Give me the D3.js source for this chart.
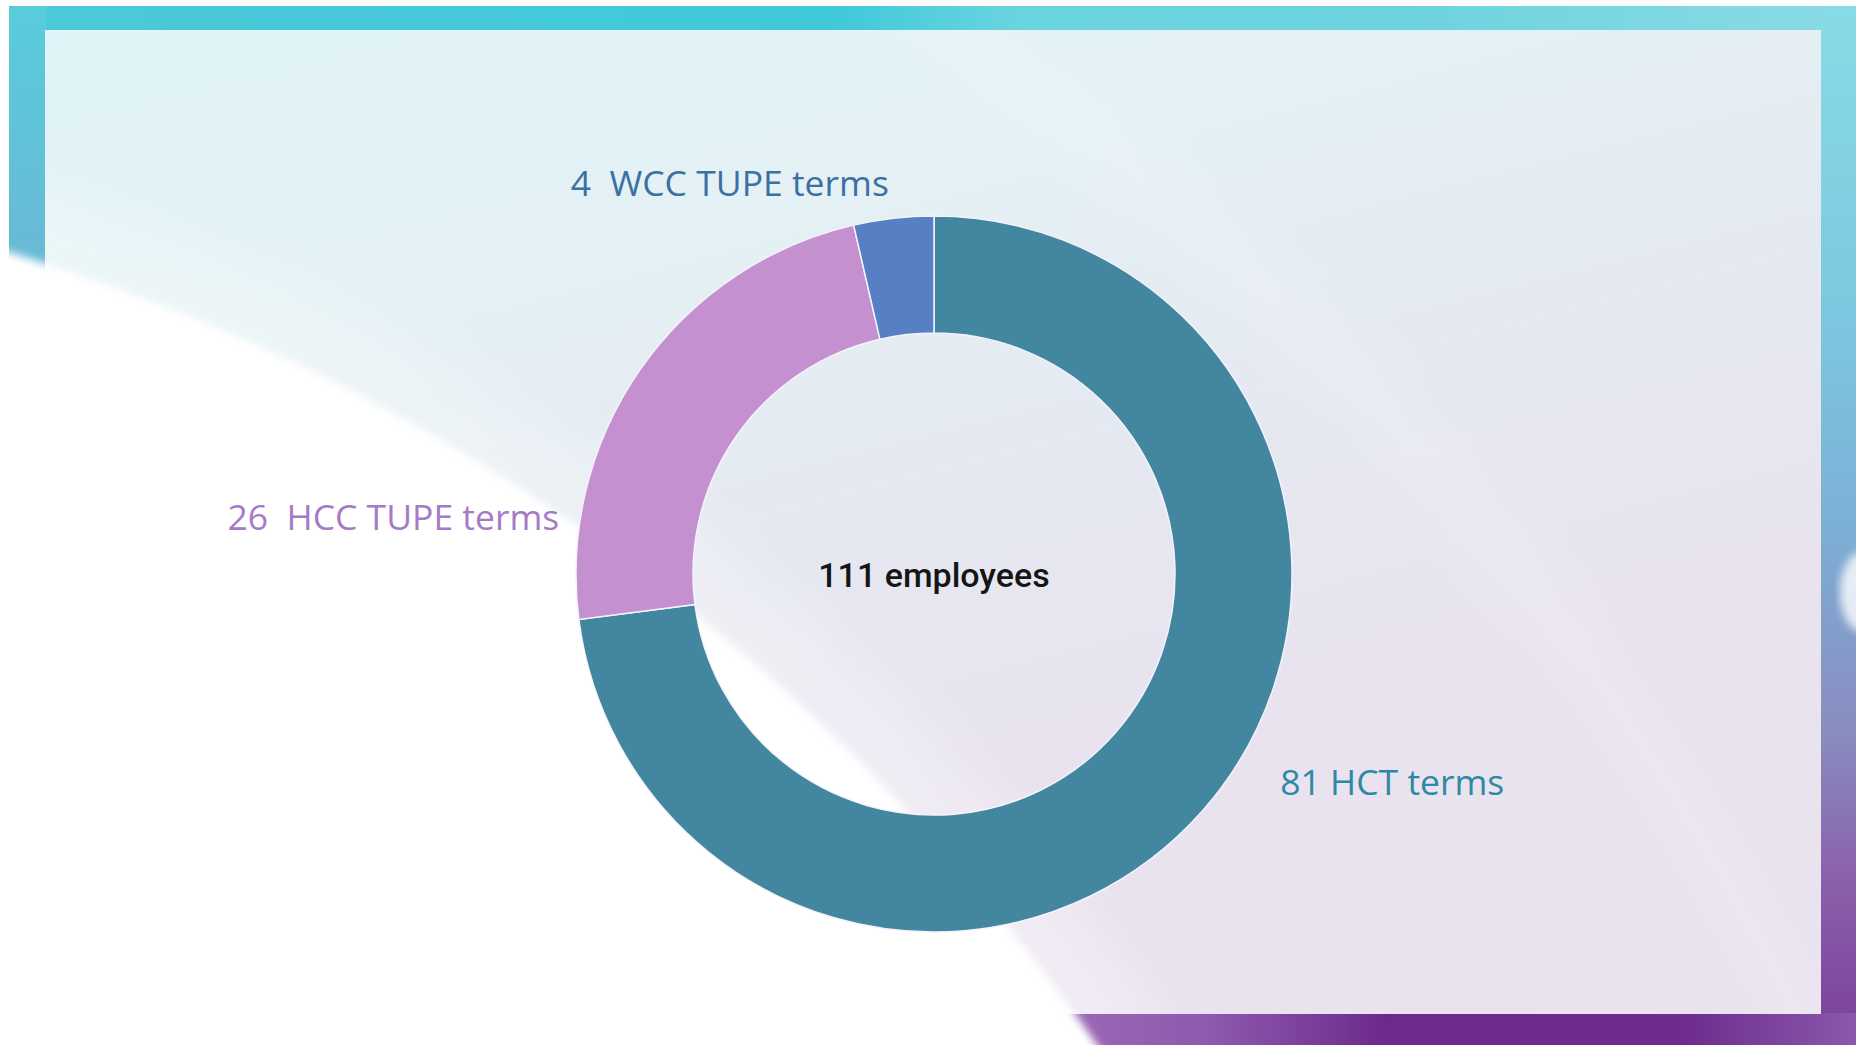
<!DOCTYPE html>
<html>
<head>
    <title>Employees by terms (D3 donut)</title>
    <script src="https://d3js.org/d3.v7.min.js"></script>
    <style>
        html, body { margin: 0; padding: 0; background: #ffffff; }
        #chart { display: block; }
        .slice-label { font-family: "Open Sans", sans-serif; font-size: 35.5px; white-space: pre; }
        .center-label { font-family: Roboto, sans-serif; font-size: 34px; font-weight: 500; fill: #151515; }
    </style>
</head>
<body>
    <svg id="chart"></svg>
    <script>
        // chart data
        var categories = ['HCT terms', 'HCC TUPE terms', 'WCC TUPE terms'];
        var counts = [81, 26, 4];
        var labelTexts = ['81 HCT terms', '26  HCC TUPE terms', '4  WCC TUPE terms'];
        var centerText = '111 employees';

        // look
        var sliceColors = ['#42869f', '#c490cf', '#5680c3'];
        var labelColors = ['#2f88a4', '#a67ac6', '#3c70a3'];
        // where each label sits around the ring: angle (rad, clockwise from top), radius, anchor
        var labelLayout = [
            { angle: 2.112, radius: 404, anchor: 'start' },
            { angle: 4.862, radius: 379, anchor: 'end' },
            { angle: 6.168, radius: 393, anchor: 'end' }
        ];

        var W = 1856, H = 1045;
        var cx = 934, cy = 574, outerR = 358, innerR = 241;

        var svg = d3.select('#chart').attr('width', W).attr('height', H);
        var defs = svg.append('defs');

        function linGrad(id, x1, y1, x2, y2, stops) {
            var g = defs.append('linearGradient').attr('id', id)
                .attr('gradientUnits', 'userSpaceOnUse')
                .attr('x1', x1).attr('y1', y1).attr('x2', x2).attr('y2', y2);
            stops.forEach(s => g.append('stop').attr('offset', s[0]).attr('stop-color', s[1]));
        }

        linGrad('topBand', 0, 0, W, 0, [[0, '#4cc9d8'], [0.45, '#40c9da'], [0.55, '#6ad4e0'], [0.75, '#6cd3df'], [1, '#8adbe5']]);
        linGrad('leftBand', 0, 0, 0, 300, [[0, '#58cddb'], [1, '#6cb6d4']]);
        linGrad('rightBand', 0, 0, 0, H, [[0, '#88dce6'], [0.3, '#7cc8e0'], [0.5, '#7db0d6'], [0.7, '#8a8cc0'], [0.85, '#8a5ea9'], [1, '#7a3e9c']]);
        linGrad('bottomBand', 1000, 0, W, 0, [[0, '#a070b8'], [0.25, '#8e58ae'], [0.45, '#6c2a8c'], [0.8, '#6e2c8e'], [1, '#8a58ac']]);
        linGrad('panel', 0, 30, 250, 1014, [[0, '#dff4f8'], [0.35, '#e4f1f5'], [0.65, '#e5e9f1'], [1, '#e9e2ef']]);

        defs.append('filter').attr('id', 'soft').attr('x', '-10%').attr('y', '-10%').attr('width', '120%').attr('height', '120%')
            .append('feGaussianBlur').attr('stdDeviation', 4);
        defs.append('filter').attr('id', 'softer').attr('x', '-10%').attr('y', '-10%').attr('width', '120%').attr('height', '120%')
            .append('feGaussianBlur').attr('stdDeviation', 25);
        defs.append('clipPath').attr('id', 'panelClip')
            .append('rect').attr('x', 45).attr('y', 30).attr('width', 1776).attr('height', 984);

        // frame bands
        var bg = svg.append('g');
        bg.append('rect').attr('x', 9).attr('y', 6).attr('width', W - 9).attr('height', 25).attr('fill', 'url(#topBand)');
        bg.append('rect').attr('x', 9).attr('y', 6).attr('width', 37).attr('height', H).attr('fill', 'url(#leftBand)');
        bg.append('rect').attr('x', 1820).attr('y', 6).attr('width', 36).attr('height', H).attr('fill', 'url(#rightBand)');
        bg.append('rect').attr('x', 9).attr('y', 1013).attr('width', W).attr('height', 32).attr('fill', 'url(#bottomBand)');
        bg.append('ellipse').attr('cx', 1862).attr('cy', 592).attr('rx', 22).attr('ry', 40)
            .attr('fill', '#ffffff').attr('opacity', 0.8).attr('filter', 'url(#soft)');

        // inner panel
        bg.append('rect').attr('x', 45).attr('y', 30).attr('width', 1776).attr('height', 984).attr('fill', 'url(#panel)');

        // sweeping light shapes
        var glow = bg.append('g').attr('clip-path', 'url(#panelClip)');
        glow.append('circle').attr('cx', -581).attr('cy', 2205).attr('r', 2660)
            .attr('fill', 'none').attr('stroke', '#ffffff').attr('stroke-width', 50)
            .attr('opacity', 0.2).attr('filter', 'url(#softer)');
        glow.append('circle').attr('cx', -581).attr('cy', 2205).attr('r', 2110)
            .attr('fill', '#ffffff').attr('opacity', 0.3).attr('filter', 'url(#softer)');
        bg.append('circle').attr('cx', -581).attr('cy', 2205).attr('r', 2040)
            .attr('fill', '#ffffff').attr('filter', 'url(#soft)');

        // donut
        var pie = d3.pie().sort(null).value(d => d);
        var arcs = pie(counts);
        var arc = d3.arc().innerRadius(innerR).outerRadius(outerR);

        var g = svg.append('g').attr('transform', 'translate(' + cx + ',' + cy + ')');

        g.selectAll('path.slice')
            .data(arcs)
            .enter().append('path')
            .attr('class', 'slice')
            .attr('d', arc)
            .attr('fill', (d, i) => sliceColors[i])
            .attr('stroke', '#f4f2fb')
            .attr('stroke-width', 1.5);

        // labels around the ring
        g.selectAll('text.slice-label')
            .data(arcs)
            .enter().append('text')
            .attr('class', 'slice-label')
            .attr('transform', (d, i) => {
                var p = d3.pointRadial(labelLayout[i].angle, labelLayout[i].radius);
                return 'translate(' + p[0] + ',' + p[1] + ')';
            })
            .attr('dy', '0.36em')
            .attr('text-anchor', (d, i) => labelLayout[i].anchor)
            .attr('fill', (d, i) => labelColors[i])
            .text((d, i) => labelTexts[i]);

        // total in the middle
        g.append('text')
            .attr('class', 'center-label')
            .attr('text-anchor', 'middle')
            .attr('y', 13)
            .text(centerText);
    </script>
</body>
</html>
